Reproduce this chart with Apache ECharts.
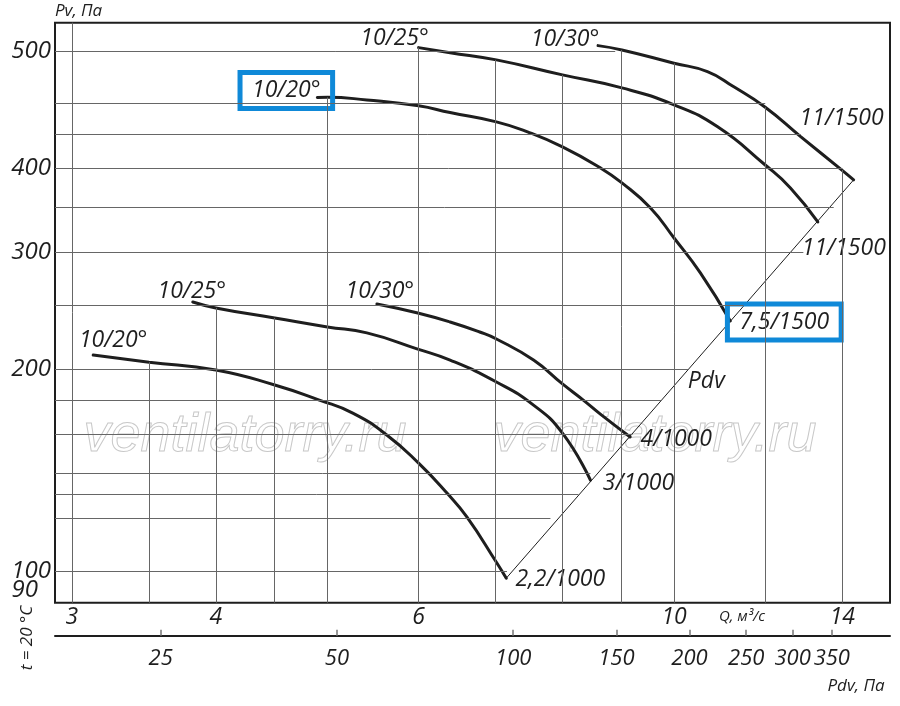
<!DOCTYPE html>
<html>
<head>
    <meta charset="utf-8">
    <title>Pv / Q</title>
    <style>
        html, body { margin: 0; padding: 0; background: #fff; }
    </style>
</head>
<body>
    <div id="main" style="width: 900px; height: 706px;"></div>
    <script src="https://cdn.jsdelivr.net/npm/echarts@6.0.0/dist/echarts.min.js"></script>
    <script type="text/javascript">
        // axes ranges
        var qMin = 2.9, qMax = 15.4;
        var pvMin = 89.6, pvMax = 661;
        var pdvMin = 16.5, pdvMax = 440;

        // tick labels
        var qTicks = [3, 4, 6, 10, 14];
        var pdvTicks = [25, 50, 100, 150, 200, 250, 300, 350];
        var pvTickValues = [100, 200, 300, 400, 600];
        var pvTickTexts = ['100', '200', '300', '400', '500'];
        var pvBottomText = '90';

        // grid lines (they stop at the curves / Pdv line)
        var gridQ = [3, 3.5, 4, 4.5, 5, 6, 7, 8, 9, 10, 12, 14];
        var gridQTop = [661, 205.2, 247.4, 239.0, 511, 606.6, 581.5, 552.2, 601.8, 574.9, 494, 398];
        var gridPv = [100, 120, 130, 140, 160, 180, 200, 250, 300, 350, 400, 450, 500, 600];
        var gridPvEnd = [7.16, 7.81, 8.26, 8.46, 9.20, 9.76, 10.29, 11.49, 12.95, 13.76, 14.0, 12.88, 12.0, 8.89];

        // curves, Q m3/s and Pv Pa
        var q22 = [3.13, 3.50, 4.00, 4.50, 4.92, 5.26, 5.63, 6.00, 6.35, 6.61, 7.01, 7.15];
        var pv22 = [210.3, 205.2, 199.8, 189.7, 180.1, 172.2, 159.7, 144.9, 130.7, 120.3, 103.0, 97.5];
        var q30 = [3.82, 4.00, 4.50, 5.00, 5.41, 5.99, 6.39, 7.01, 7.55, 8.00, 8.46];
        var pv30 = [252.5, 247.4, 239.0, 231.7, 227.0, 214.7, 206.7, 191.7, 177.0, 160.7, 136.7];
        var q40 = [5.52, 5.99, 6.39, 6.78, 7.01, 7.55, 8.00, 8.34, 8.63, 9.16];
        var pv40 = [250.8, 243.1, 235.7, 227.7, 222.3, 206.7, 190.4, 180.1, 171.6, 158.6];
        var q75 = [4.90, 5.00, 5.41, 6.00, 6.39, 7.01, 7.46, 8.00, 8.63, 9.01, 9.54, 10.00, 10.54, 11.19];
        var pv75 = [510.9, 511.3, 506.5, 496.4, 485.0, 469.7, 453.8, 430.9, 400.8, 380.6, 349.1, 314.8, 279.1, 236.5];
        var q110a = [6.00, 6.39, 7.01, 8.00, 9.01, 10.00, 10.91, 12.00, 12.62, 13.33];
        var pv110a = [606.6, 596.2, 581.5, 552.2, 528.0, 498.1, 461.7, 404.8, 374.1, 332.7];
        var q110b = [8.59, 9.01, 10.00, 10.69, 11.26, 12.00, 12.88, 13.98, 14.32];
        var pv110b = [610.8, 601.8, 574.9, 558.5, 530.4, 494.0, 446.5, 398.0, 384.6];
        var qPdv = [7.15, 14.32];
        var pvPdv = [97.5, 384.6];

        var startTexts = ['10/20°', '10/25°', '10/30°', '10/20°', '10/25°', '10/30°'];
        var endTexts = ['2,2/1000', '3/1000', '4/1000', '7,5/1500', '11/1500', '11/1500'];

        var FONT = '"Open Sans", "Noto Sans", sans-serif';
        var INK = '#1e1e1e';
        var BLUE = '#0f89d8';

        var labelBase = {
            show: true,
            position: 'inside',
            fontFamily: FONT,
            fontStyle: 'italic',
            fontSize: 23,
            lineHeight: 24,
            color: INK
        };

        function boxed(lbl) {
            return Object.assign(lbl, {
                borderColor: BLUE,
                borderWidth: 5,
                padding: [7, 12, 5, 12]
            });
        }

        // pixel offsets of the start / end captions
        var startOffsets = [[20, -15], [-1, -11], [3, -13], [-31, -7], [-24, -9], [-33, -6]];
        var endOffsets = [[54, 1], [48, 3], [46, 2], [54, 1], [26, 27], [-12, -61]];
        var boxedStart = [false, false, false, true, false, false];
        var boxedEnd = [false, false, false, true, false, false];

        function curve(qs, ps, i) {
            var data = qs.map(function (q, k) {
                var item = { value: [q, ps[k]] };
                if (k === 0) {
                    var l = Object.assign({}, labelBase, { formatter: startTexts[i], offset: startOffsets[i] });
                    item.label = boxedStart[i] ? boxed(l) : l;
                } else if (k === qs.length - 1) {
                    var l2 = Object.assign({}, labelBase, { formatter: endTexts[i], offset: endOffsets[i] });
                    item.label = boxedEnd[i] ? boxed(l2) : l2;
                }
                return item;
            });
            return {
                type: 'line',
                xAxisIndex: 0,
                yAxisIndex: 0,
                data: data,
                smooth: 0.5,
                symbol: 'circle',
                symbolSize: 0,
                showSymbol: true,
                silent: true,
                z: 3,
                label: { show: false },
                itemStyle: { color: 'transparent' },
                lineStyle: { color: INK, width: 3, cap: 'round' }
            };
        }

        var vLines = gridQ.map(function (q, i) {
            return [{ coord: [q, gridQTop[i]] }, { coord: [q, pvMin] }];
        });
        var hLines = gridPv.map(function (p, i) {
            return [{ coord: [qMin, p] }, { coord: [gridPvEnd[i], p] }];
        });

        var pdvSeries = {
            type: 'line',
            xAxisIndex: 0,
            yAxisIndex: 0,
            data: qPdv.map(function (q, k) {
                var item = { value: [q, pvPdv[k]] };
                if (k === 0) {
                    item.label = Object.assign({}, labelBase, { formatter: 'Pdv', offset: [200, -197] });
                }
                return item;
            }),
            symbol: 'circle',
            symbolSize: 0,
            silent: true,
            z: 2,
            label: { show: false },
            itemStyle: { color: 'transparent' },
            lineStyle: { color: INK, width: 1 },
            markLine: {
                silent: true,
                symbol: ['none', 'none'],
                label: { show: false },
                emphasis: { disabled: true },
                lineStyle: { type: 'solid', color: '#666', width: 1 },
                data: vLines.concat(hLines)
            }
        };

        var chart = echarts.init(document.getElementById('main'));

        var option = {
            animation: false,
            backgroundColor: '#fff',
            grid: {
                left: 55,
                right: 10,
                top: 22.7,
                bottom: 103.3,
                show: true,
                borderColor: INK,
                borderWidth: 2,
                backgroundColor: 'transparent'
            },
            xAxis: [
                {
                    type: 'log',
                    min: qMin,
                    max: qMax,
                    position: 'bottom',
                    axisLine: { show: false },
                    axisTick: { show: false },
                    splitLine: { show: false },
                    axisLabel: {
                        customValues: qTicks,
                        margin: 3,
                        fontFamily: FONT,
                        fontStyle: 'italic',
                        fontSize: 23,
                        color: INK
                    }
                },
                {
                    type: 'log',
                    min: pdvMin,
                    max: pdvMax,
                    position: 'bottom',
                    offset: 33,
                    axisLine: { show: true, lineStyle: { color: INK, width: 2 } },
                    axisTick: {
                        show: true,
                        inside: true,
                        length: 6,
                        customValues: pdvTicks,
                        lineStyle: { color: '#777', width: 1.5 }
                    },
                    splitLine: { show: false },
                    axisLabel: {
                        customValues: pdvTicks,
                        margin: 12,
                        fontFamily: FONT,
                        fontStyle: 'italic',
                        fontSize: 22,
                        color: INK
                    }
                }
            ],
            yAxis: {
                type: 'log',
                min: pvMin,
                max: pvMax,
                axisLine: { show: false },
                axisTick: { show: false },
                splitLine: { show: false },
                axisLabel: {
                    customValues: pvTickValues,
                    showMinLabel: true,
                    showMaxLabel: true,
                    margin: 4,
                    fontFamily: FONT,
                    fontStyle: 'italic',
                    fontSize: 24,
                    color: INK,
                    formatter: function (v) {
                        var idx = -1;
                        pvTickValues.forEach(function (t, k) {
                            if (Math.abs(t - v) < 0.5) { idx = k; }
                        });
                        return idx >= 0 ? pvTickTexts[idx] : '';
                    }
                }
            },
            graphic: [
                {
                    type: 'text', x: 245, y: 436, z: 0, silent: true,
                    style: {
                        text: 'ventilatorry.ru', font: 'italic 54px "Liberation Sans", sans-serif',
                        fill: 'transparent', stroke: '#c8c8c8', lineWidth: 1,
                        align: 'center', verticalAlign: 'middle', textAlign: 'center', textVerticalAlign: 'middle'
                    }
                },
                {
                    type: 'text', x: 655, y: 436, z: 0, silent: true,
                    style: {
                        text: 'ventilatorry.ru', font: 'italic 54px "Liberation Sans", sans-serif',
                        fill: 'transparent', stroke: '#c8c8c8', lineWidth: 1,
                        align: 'center', verticalAlign: 'middle', textAlign: 'center', textVerticalAlign: 'middle'
                    }
                },
                {
                    type: 'text', x: 38, y: 590, z: 10,
                    style: {
                        text: pvBottomText, font: 'italic 24px ' + FONT, fill: INK,
                        align: 'right', verticalAlign: 'middle', textAlign: 'right', textVerticalAlign: 'middle'
                    }
                },
                {
                    type: 'text', x: 55, y: 11, z: 10,
                    style: {
                        text: 'Pv, Па', font: 'italic 17px ' + FONT, fill: INK,
                        align: 'left', verticalAlign: 'middle', textAlign: 'left', textVerticalAlign: 'middle'
                    }
                },
                {
                    type: 'text', x: 742, y: 617, z: 10,
                    style: {
                        text: 'Q, м³/с', font: 'italic 15px ' + FONT, fill: INK,
                        align: 'center', verticalAlign: 'middle', textAlign: 'center', textVerticalAlign: 'middle'
                    }
                },
                {
                    type: 'text', x: 856, y: 686, z: 10,
                    style: {
                        text: 'Pdv, Па', font: 'italic 17px ' + FONT, fill: INK,
                        align: 'center', verticalAlign: 'middle', textAlign: 'center', textVerticalAlign: 'middle'
                    }
                },
                {
                    type: 'text', x: 27, y: 638, z: 10, rotation: Math.PI / 2,
                    style: {
                        text: 't = 20 °C', font: 'italic 17px ' + FONT, fill: INK,
                        align: 'center', verticalAlign: 'middle', textAlign: 'center', textVerticalAlign: 'middle'
                    }
                }
            ],
            series: [
                pdvSeries,
                curve(q22, pv22, 0),
                curve(q30, pv30, 1),
                curve(q40, pv40, 2),
                curve(q75, pv75, 3),
                curve(q110a, pv110a, 4),
                curve(q110b, pv110b, 5)
            ]
        };

        chart.setOption(option);
    </script>
</body>
</html>
